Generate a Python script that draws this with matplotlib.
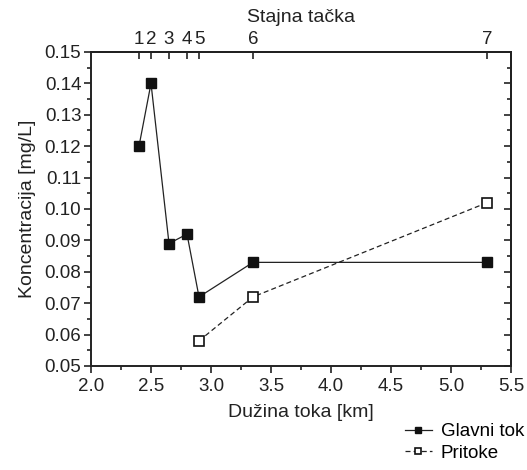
import numpy as np
import matplotlib
matplotlib.use("Agg")
import matplotlib.pyplot as plt
from matplotlib.ticker import MultipleLocator, FixedLocator

plt.rcParams['font.family'] = ['Liberation Sans', 'DejaVu Sans']

## data
glavni_x = [2.4, 2.5, 2.65, 2.8, 2.9, 3.35, 5.3]
glavni_y = [0.120, 0.140, 0.089, 0.092, 0.072, 0.083, 0.083]
pritoke_x = [2.9, 3.35, 5.3]
pritoke_y = [0.058, 0.072, 0.102]
stations = ['1', '2', '3', '4', '5', '6', '7']

tick_fs = 13.5
label_fs = 14

fig = plt.figure(figsize=(5.27, 4.70), dpi=100)
ax = fig.add_axes([0.1727, 0.2213, 0.7969, 0.6681])

ax.plot(glavni_x, glavni_y, color='#222222', linewidth=0.9, marker='s',
        markersize=6.5, markerfacecolor='#111111', markeredgecolor='#111111',
        label='Glavni tok')
ax.plot(pritoke_x, pritoke_y, color='#222222', linewidth=0.9, linestyle=(0, (4, 2.5)),
        marker='s', markersize=6.5, markerfacecolor='white',
        markeredgecolor='#111111', markeredgewidth=1.2, label='Pritoke')

ax.set_xlim(2.0, 5.5)
ax.set_ylim(0.05, 0.15)
ax.xaxis.set_major_locator(MultipleLocator(0.5))
ax.xaxis.set_minor_locator(MultipleLocator(0.25))
ax.yaxis.set_major_locator(MultipleLocator(0.01))
ax.yaxis.set_minor_locator(MultipleLocator(0.005))
ax.xaxis.set_major_formatter(plt.FuncFormatter(lambda v, p: f"{v:.1f}"))
ax.yaxis.set_major_formatter(plt.FuncFormatter(lambda v, p: f"{v:.2f}"))

for s in ax.spines.values():
    s.set_linewidth(1.4)
    s.set_color('#222222')

# left / bottom ticks point outward
ax.tick_params(axis='x', which='major', direction='out', length=5, width=1.2,
               labelsize=tick_fs, colors='#222222', pad=4)
ax.tick_params(axis='y', which='major', direction='out', length=5, width=1.2,
               labelsize=tick_fs, colors='#222222', pad=2)
ax.tick_params(axis='both', which='minor', direction='out', length=3, width=1.2,
               colors='#222222')

# right axis: inward ticks, no labels
axr = ax.secondary_yaxis('right')
axr.yaxis.set_major_locator(MultipleLocator(0.01))
axr.yaxis.set_minor_locator(MultipleLocator(0.005))
axr.tick_params(axis='y', which='major', direction='in', length=5, width=1.2,
                labelright=False, colors='#222222')
axr.tick_params(axis='y', which='minor', direction='in', length=3, width=1.2,
                colors='#222222')
axr.spines['right'].set_linewidth(1.4)

# top axis: station numbers
axt = ax.secondary_xaxis('top')
axt.xaxis.set_major_locator(FixedLocator(glavni_x))
axt.set_xticklabels(stations)
axt.tick_params(axis='x', which='major', direction='in', length=5, width=1.2,
                labelsize=tick_fs, colors='#222222', pad=3)
axt.tick_params(axis='x', which='minor', top=False)
axt.spines['top'].set_linewidth(1.4)
axt.set_xlabel('Stajna tačka', fontsize=label_fs, color='#222222', labelpad=6)

ax.set_xlabel('Dužina toka [km]', fontsize=label_fs, color='#222222', labelpad=6)
ax.set_ylabel('Koncentracija [mg/L]', fontsize=label_fs, color='#222222', labelpad=6)

fig.legend(loc='upper right', bbox_to_anchor=(0.995, 1 - 423 / 470), frameon=False,
           fontsize=tick_fs, handlelength=1.4, handletextpad=0.5, labelspacing=0.25,
           markerscale=0.7, borderaxespad=0, borderpad=0)

fig.savefig('out.png', dpi=100)
